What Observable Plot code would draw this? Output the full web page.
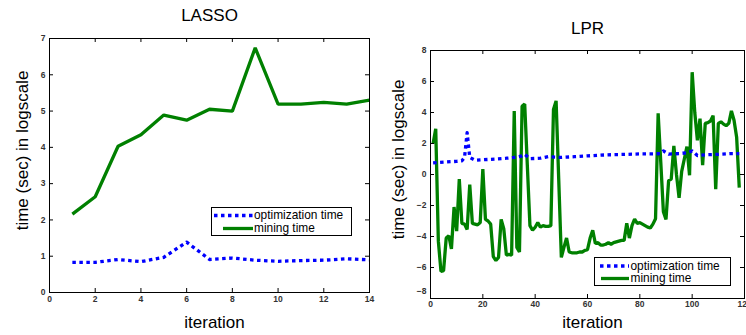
<!DOCTYPE html>
<html>
<head>
<meta charset="utf-8">
<script src="https://cdn.jsdelivr.net/npm/d3@7"></script>
<script src="https://cdn.jsdelivr.net/npm/@observablehq/plot@0.6"></script>
<style>
  body { margin: 0; background: #fff; font-family: "Liberation Sans", Arial, sans-serif; }
  #wrap { position: relative; width: 746px; height: 335px; overflow: hidden; }
  .panel { position: absolute; top: 0; }
  .legend { position: absolute; border: 1px solid #000; background: #fff; box-sizing: border-box; }
  .legend .row { position: absolute; left: 0; white-space: nowrap; font-size: 11.9px; line-height: 12px; height: 12px; color: #000; }
  .legend svg { position: absolute; top: 0; left: 0; overflow: visible; }
</style>
</head>
<body>
<div id="wrap"></div>
<script>
// ---------- DATA ----------
const seriesNames = ["optimization time", "mining time"];
const seriesColors = ["#0000ff", "#008000"];

// LASSO panel
const lassoIter = [1, 2, 3, 4, 5, 6, 7, 8, 9, 10, 11, 12, 13, 14];
const lassoOpt = [0.83, 0.83, 0.91, 0.85, 0.97, 1.39, 0.91, 0.95, 0.89, 0.86, 0.88, 0.89, 0.93, 0.90];
const lassoMining = [2.16, 2.64, 4.03, 4.35, 4.89, 4.75, 5.05, 5.0, 6.74, 5.19, 5.19, 5.24, 5.19, 5.3];
const lassoXTicks = [0, 2, 4, 6, 8, 10, 12, 14];
const lassoYTicks = [0, 1, 2, 3, 4, 5, 6, 7];

// LPR panel
const lprOptIter = [1, 5, 10, 12, 13, 14, 15, 17, 20, 25, 29, 32, 35, 36, 38, 42, 45, 50, 55, 60, 65, 70, 75, 80, 85, 88, 89, 91, 95, 98, 100, 102, 105, 110, 115, 118];
const lprOpt = [0.75, 0.8, 0.85, 0.88, 1.1, 2.7, 1.1, 0.92, 0.95, 1.0, 1.05, 1.1, 1.2, 1.3, 1.02, 1.05, 1.15, 1.1, 1.15, 1.2, 1.25, 1.28, 1.3, 1.33, 1.33, 1.35, 1.52, 1.32, 1.35, 1.4, 1.52, 1.22, 1.27, 1.3, 1.35, 1.35];
const lprMining = [
  2.0, 2.95, -4.3, -6.25, -6.2, -4.1, -3.95, -4.8, -2.1, -3.65,
  -0.3, -3.15, -3.2, -3.55, -0.65, -3.15, -3.2, -3.25, -3.1, 0.35,
  -2.9, -3.0, -3.2, -5.3, -5.55, -5.35, -2.9, -3.5, -5.2, -5.15,
  -5.2, 4.1, -4.7, -5.0, 4.4, 4.55, 0.6, -3.3, -3.6, -3.4,
  -3.1, -3.4, -3.3, -3.35, -3.35, -3.3, 4.2, 4.75, -0.3, -5.35,
  -4.7, -4.1, -5.0, -5.05, -5.05, -5.05, -5.0, -5.0, -4.9, -4.85,
  -4.1, -3.6, -4.45, -4.4, -4.55, -4.55, -4.5, -4.4, -4.5, -4.4,
  -4.35, -4.3, -4.25, -4.25, -3.15, -4.1, -3.3, -2.87, -3.15, -3.1,
  -3.2, -3.3, -3.4, -3.45, -3.2, -2.85, 3.95, 0.8, -2.4, -2.9,
  -0.4, -0.3, 1.85, 0.0, -1.5, 0.2, 1.0, 1.8, -0.05, 6.6,
  4.0, 2.2, 3.6, 0.6, 3.3, 3.35, 3.45, 3.8, -0.95, 3.3,
  3.4, 3.25, 3.15, 3.3, 4.1, 3.5, 2.4, -0.85
];
const lprXTicks = [0, 20, 40, 60, 80, 100, 120];
const lprYTicks = [-8, -6, -4, -2, 0, 2, 4, 6, 8];

// ---------- DRAW ----------
const FONT = '"Liberation Sans", Arial, sans-serif';
const W = 373, H = 335;
const wrap = document.getElementById("wrap");

function panel(cfg) {
  const m = cfg.margin;
  const iw = W - m.left - m.right, ih = H - m.top - m.bottom;
  const optData = cfg.optIter.map((x, i) => ({x, y: cfg.opt[i]}));
  const minData = cfg.mining.map((y, i) => ({x: cfg.minIter ? cfg.minIter[i] : i + 1, y}));
  const tickLen = 4;
  const yMin = cfg.yDomain[0];
  const tickStyle = {tickSize: 0, fontSize: 8.5, color: "#333", label: null, fontWeight: "bold"};
  const chart = Plot.plot({
    width: W, height: H,
    marginLeft: m.left, marginRight: m.right, marginTop: m.top, marginBottom: m.bottom,
    x: {domain: cfg.xDomain, axis: null},
    y: {domain: cfg.yDomain, axis: null},
    style: {fontFamily: FONT, background: "transparent", overflow: "visible"},
    marks: [
      Plot.line(minData, {x: "x", y: "y", stroke: seriesColors[1], strokeWidth: 3.3, strokeLinejoin: "miter", strokeLinecap: "butt"}),
      Plot.line(optData, {x: "x", y: "y", stroke: seriesColors[0], strokeWidth: 3.3, strokeDasharray: "3.5,3.5", strokeLinecap: "butt"}),
      Plot.frame({stroke: "#000", strokeWidth: 1}),
      // inward ticks on all four sides
      Plot.tickX(cfg.xTicks, {x: d => d, insetTop: ih - tickLen, stroke: "#000"}),
      Plot.tickX(cfg.xTicks, {x: d => d, insetBottom: ih - tickLen, stroke: "#000"}),
      Plot.tickY(cfg.yTicks, {y: d => d, insetLeft: iw - tickLen, stroke: "#000"}),
      Plot.tickY(cfg.yTicks, {y: d => d, insetRight: iw - tickLen, stroke: "#000"}),
      Plot.axisX(cfg.xTicks, {...tickStyle, tickPadding: cfg.xPad}),
      Plot.axisY(cfg.yTicks.filter(d => !(cfg.liftBottom && d === yMin)), {...tickStyle, tickPadding: 4}),
      cfg.liftBottom ? Plot.axisY([yMin], {...tickStyle, tickPadding: 4, dy: -7}) : null,
      Plot.text([cfg.title], {frameAnchor: "top", dy: cfg.titleDy, text: d => d, fontSize: 17, fill: "#000", textAnchor: "middle", lineAnchor: "middle"}),
      Plot.text(["iteration"], {frameAnchor: "bottom", dy: cfg.xlabDy, dx: 5, text: d => d, fontSize: 17, fill: "#000", textAnchor: "middle", lineAnchor: "middle"}),
      Plot.text(["time (sec) in logscale"], {frameAnchor: "left", dx: cfg.ylabDx, dy: -15, rotate: -90, text: d => d, fontSize: 17, fill: "#000", textAnchor: "middle", lineAnchor: "middle"})
    ]
  });
  const div = document.createElement("div");
  div.className = "panel";
  div.style.left = cfg.left + "px";
  div.appendChild(chart);
  wrap.appendChild(div);
}

function legend(box) {
  const lg = document.createElement("div");
  lg.className = "legend";
  lg.style.left = box.x + "px"; lg.style.top = box.y + "px";
  lg.style.width = box.w + "px"; lg.style.height = box.h + "px";
  const svgNS = "http://www.w3.org/2000/svg";
  const svg = document.createElementNS(svgNS, "svg");
  svg.setAttribute("width", box.w); svg.setAttribute("height", box.h);
  seriesNames.forEach((name, i) => {
    const ln = document.createElementNS(svgNS, "line");
    ln.setAttribute("x1", box.sx[i][0]); ln.setAttribute("x2", box.sx[i][1]);
    ln.setAttribute("y1", box.rows[i]); ln.setAttribute("y2", box.rows[i]);
    ln.setAttribute("stroke", seriesColors[i]);
    ln.setAttribute("stroke-width", 3.3);
    if (i === 0) ln.setAttribute("stroke-dasharray", "3.5,3.5");
    svg.appendChild(ln);
    const t = document.createElement("div");
    t.className = "row";
    t.textContent = name;
    t.style.left = box.tx + "px";
    t.style.top = (box.rows[i] - 6.3) + "px";
    lg.appendChild(t);
  });
  lg.appendChild(svg);
  wrap.appendChild(lg);
}

panel({
  left: 0, title: "LASSO",
  optIter: lassoIter, opt: lassoOpt, minIter: lassoIter, mining: lassoMining,
  xDomain: [0, 14], yDomain: [0, 7], xTicks: lassoXTicks, yTicks: lassoYTicks,
  margin: {left: 49, right: 4, top: 38, bottom: 43},
  xPad: 3, titleDy: -23, xlabDy: 30, ylabDx: -27, liftBottom: false
});
panel({
  left: 373, title: "LPR",
  optIter: lprOptIter, opt: lprOpt, minIter: null, mining: lprMining,
  xDomain: [0, 120], yDomain: [-8, 8], xTicks: lprXTicks, yTicks: lprYTicks,
  margin: {left: 57, right: 2, top: 50, bottom: 37},
  xPad: 2, titleDy: -22, xlabDy: 24, ylabDx: -32, liftBottom: true
});

legend({x: 211, y: 207, w: 141, h: 29, rows: [7.5, 20.5], sx: [[2, 41], [11, 41]], tx: 42});
legend({x: 594, y: 257, w: 137, h: 29, rows: [8, 20.5], sx: [[5, 34], [6, 34]], tx: 35.5});
</script>
</body>
</html>
